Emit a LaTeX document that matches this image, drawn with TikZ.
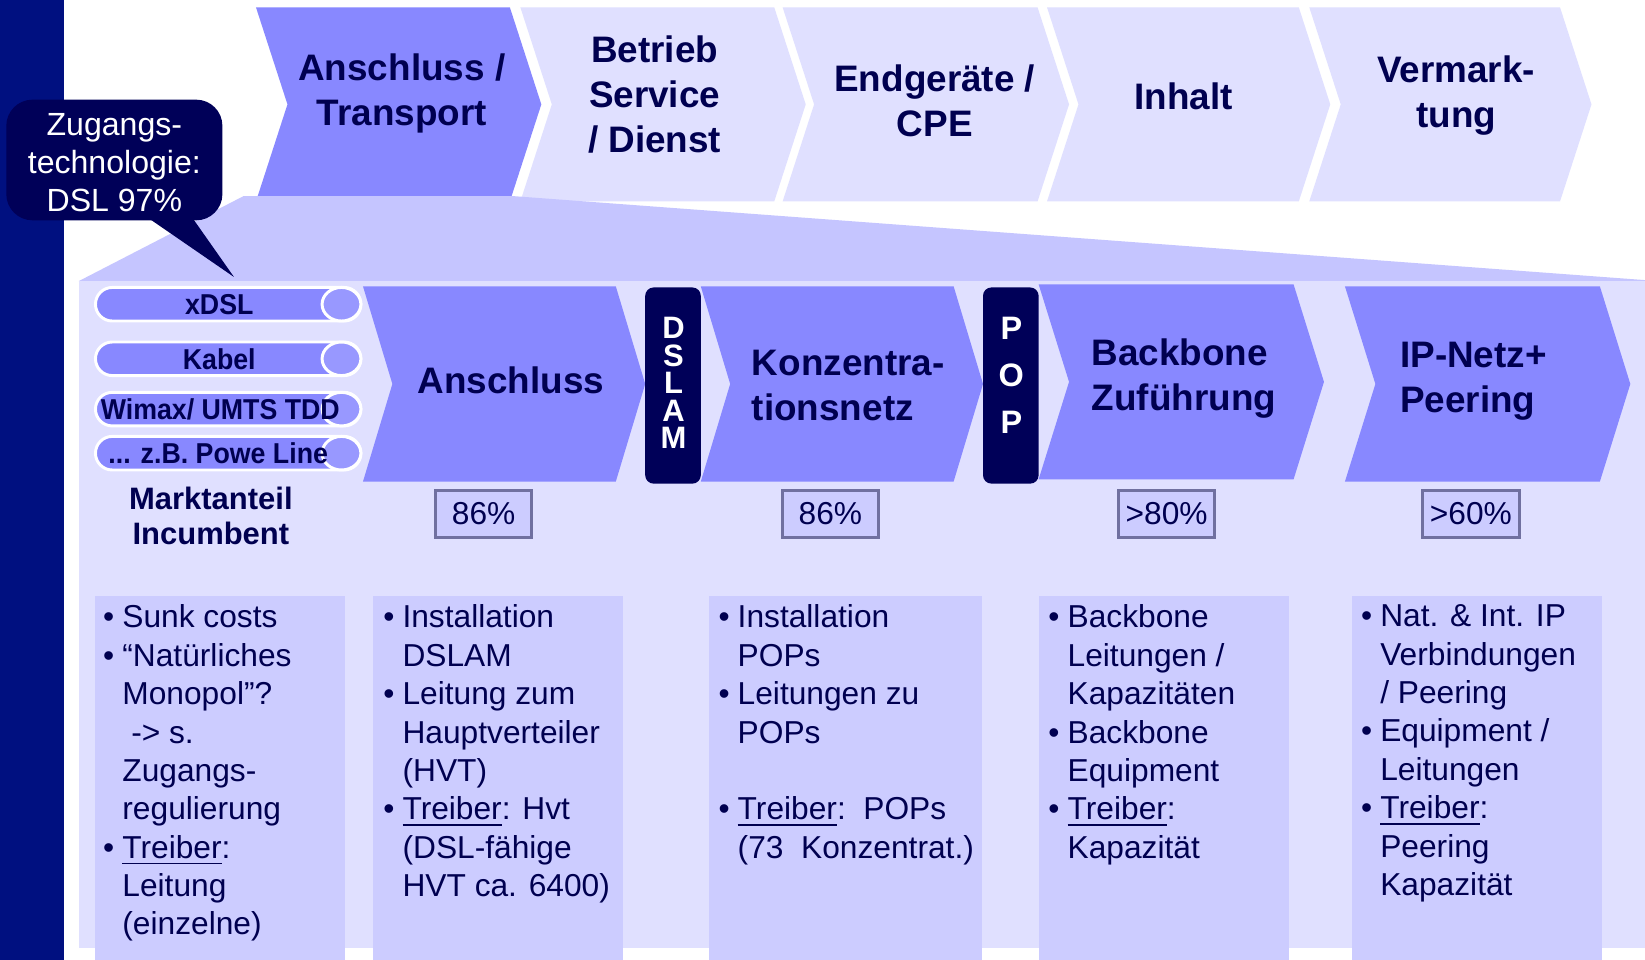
\documentclass[tikz,border=0pt]{standalone}
\usepackage{fontspec}
\setmainfont{Liberation Sans}
\newfontfamily\pillfont{Liberation Sans}[FakeStretch=0.93]
\usepackage{tikz}
\usetikzlibrary{calc}
\definecolor{barblue}{RGB}{0,16,128}
\definecolor{nightblue}{RGB}{0,0,88}
\definecolor{inkblue}{RGB}{0,0,80}
\definecolor{chevblue}{RGB}{136,136,255}
\definecolor{ringblue}{RGB}{152,152,255}
\definecolor{paleblue}{RGB}{224,224,255}
\definecolor{funnelblue}{RGB}{197,197,255}
\definecolor{boxblue}{RGB}{204,204,255}
\definecolor{rimblue}{RGB}{112,112,160}
\def\chevron[#1](#2,#3)(#4:#5:#6){\fill[#1] (#2,#3) -- ++(#4,0) -- ++(#6,#5/2) -- ++(-#6,#5/2) -- ++(-#4,0) -- ++(#6,-#5/2) -- cycle;}
\def\bul{\llap{\textbullet\hspace{2.2pt}}}
\tikzset{
	headtext/.style={text=inkblue, font=\fontsize{10}{12.2}\selectfont\bfseries, align=center, inner sep=0pt},
	pill/.style={fill=chevblue, draw=white, line width=0.8pt, rounded corners=1.6mm},
	pillring/.style={fill=ringblue, draw=white, line width=0.8pt},
	pilltext/.style={text=inkblue, font=\pillfont\fontsize{7.8}{9}\selectfont\bfseries, inner sep=0pt},
	stackbox/.style={fill=nightblue, rounded corners=0.8mm, minimum width=5.3mm, minimum height=18.7mm, inner sep=0pt},
	stacktext/.style={text=white, align=center, inner sep=0pt},
	sharebox/.style={draw=rimblue, line width=0.8pt, fill=boxblue, text=inkblue, minimum width=9.2mm, minimum height=4.4mm, inner sep=0pt, font=\fontsize{8.6}{10}\selectfont},
	bullets/.style={text=inkblue, font=\fontsize{8.6}{10.4}\selectfont, align=left, anchor=north west, inner sep=0pt}
}

\begin{document}
\begin{tikzpicture}[x=0.1mm, y=-0.1mm]
	%%%%% START %%%%%
	
	\fill[white] (0, 0) rectangle (1568, 915);
	\useasboundingbox (0, 0) rectangle (1568, 915);
	
	\fill[barblue] (0, 0) rectangle (61, 915);
	
	% value chain on top
	\chevron[chevblue](244,7)(242:185:30)
	\chevron[paleblue](496,7)(242:185:30)
	\chevron[paleblue](746,7)(243:185:30)
	\chevron[paleblue](998,7)(240:185:30)
	\chevron[paleblue](1248,7)(239:185:30)
	
	\node[headtext] (transport) at (383, 89) {Anschluss /\\Transport};
	\node[headtext] (betrieb) at (624, 90) {Betrieb\\Service\\/ Dienst};
	\node[headtext] (endgeraete) at (891, 96) {Endgeräte /\\CPE};
	\node[headtext] (inhalt) at (1128, 92) {Inhalt};
	\node[headtext] (vermarktung) at (1388, 91) {Vermark-\\tung};
	
	% funnel and detail panel
	\fill[funnelblue] (75, 268) -- (232, 187) -- (490, 187) -- (1568, 267) -- (1568, 268) -- cycle;
	\fill[paleblue] (75, 268) rectangle (1568, 904);
	
	% callout
	\fill[nightblue, rounded corners=2.5mm] (6, 95) rectangle (212, 210);
	\fill[nightblue] (130, 200) -- (223, 264) -- (178, 200) -- cycle;
	\node[text=white, align=center, inner sep=0pt, font=\fontsize{8.7}{10.2}\selectfont] (zugang) at (109, 155) {Zugangs-\\technologie:\\DSL 97\%};
	
	% access technologies
	\draw[pill] (91, 274) rectangle (344, 306);
	\draw[pillring] (325.5, 290) circle [x radius=1.85mm, y radius=1.6mm];
	\draw[pill] (91, 326) rectangle (344, 358);
	\draw[pillring] (325.5, 342) circle [x radius=1.85mm, y radius=1.6mm];
	\draw[pill] (91, 374) rectangle (344, 406);
	\draw[pillring] (325.5, 390) circle [x radius=1.85mm, y radius=1.6mm];
	\draw[pill] (91, 416) rectangle (344, 448);
	\draw[pillring] (325.5, 432) circle [x radius=1.85mm, y radius=1.6mm];
	
	\node[pilltext] (xdsl) at (209, 290) {xDSL};
	\node[pilltext] (kabel) at (209, 342) {Kabel};
	\node[pilltext] (wimax) at (210, 390) {Wimax/ UMTS TDD};
	\node[pilltext] (powerline) at (208, 432) {... z.B. Powe Line};
	
	\node[text=inkblue, align=center, inner sep=0pt, font=\fontsize{8.4}{9.6}\selectfont\bfseries] (marktanteil) at (201, 492) {Marktanteil\\Incumbent};
	
	% network chain
	\chevron[chevblue](346,273)(241:186:28)
	\chevron[chevblue](668,273)(241:186:28)
	\chevron[chevblue](990,271)(243:186:29)
	\chevron[chevblue](1282,273)(243:186:29)
	
	\node[stackbox] (dslam) at (641.5, 367.5) {};
	\node[stacktext, font=\fontsize{8.4}{7.45}\selectfont\bfseries] (dslamtext) at (642, 365) {D\\S\\L\\A\\M};
	\node[stackbox] (pop) at (963.5, 367.5) {};
	\node[stacktext, font=\fontsize{8.8}{12.7}\selectfont\bfseries] (poptext) at (964, 358) {P\\O\\P};
	
	\node[headtext] (anschluss) at (487, 363) {Anschluss};
	\node[headtext, align=left, anchor=west] (konzentration) at (716, 367) {Konzentra-\\tionsnetz};
	\node[headtext, align=left, anchor=west] (backbone) at (1040, 361) {Backbone\\Zuführung};
	\node[headtext, align=left, anchor=west] (ipnetz) at (1334, 363) {IP-Netz+\\Peering};
	
	% market shares
	\node[sharebox] (shareanschluss) at (461, 490) {86\%};
	\node[sharebox] (sharekonz) at (791.5, 490) {86\%};
	\node[sharebox] (sharebackbone) at (1112, 490) {>80\%};
	\node[sharebox] (shareip) at (1402, 490) {>60\%};
	
	% cost drivers
	\fill[boxblue] (91, 568) rectangle (329, 915);
	\fill[boxblue] (356, 568) rectangle (594, 915);
	\fill[boxblue] (676, 568) rectangle (936, 915);
	\fill[boxblue] (990.5, 568) rectangle (1229, 915);
	\fill[boxblue] (1288.7, 568) rectangle (1527, 915);
	
	\node[bullets] (costsunk) at (116, 576) {\bul Sunk costs\\\bul “Natürliches\\Monopol”?\\\hspace*{2.4pt}-> s.\\Zugangs-\\regulierung\\\bul\underline{Treiber}:\\Leitung\\(einzelne)};
	\node[bullets] (costdslam) at (383, 576) {\bul Installation\\DSLAM\\\bul Leitung zum\\Hauptverteiler\\(HVT)\\\bul\underline{Treiber}: Hvt\\(DSL-fähige\\HVT ca. 6400)};
	\node[bullets] (costpop) at (702.5, 576) {\bul Installation\\POPs\\\bul Leitungen zu\\POPs\\[10.4pt]\bul\underline{Treiber}:\ \ POPs\\(73\ \ Konzentrat.)};
	\node[bullets] (costbackbone) at (1017, 576) {\bul Backbone\\Leitungen /\\Kapazitäten\\\bul Backbone\\Equipment\\\bul\underline{Treiber}:\\Kapazität};
	\node[bullets] (costpeering) at (1315, 576) {\bul Nat. \& Int. IP\\Verbindungen\\/ Peering\\\bul Equipment /\\Leitungen\\\bul\underline{Treiber}:\\Peering\\Kapazität};
	
	%%%%% END %%%%%
\end{tikzpicture}
\end{document}
